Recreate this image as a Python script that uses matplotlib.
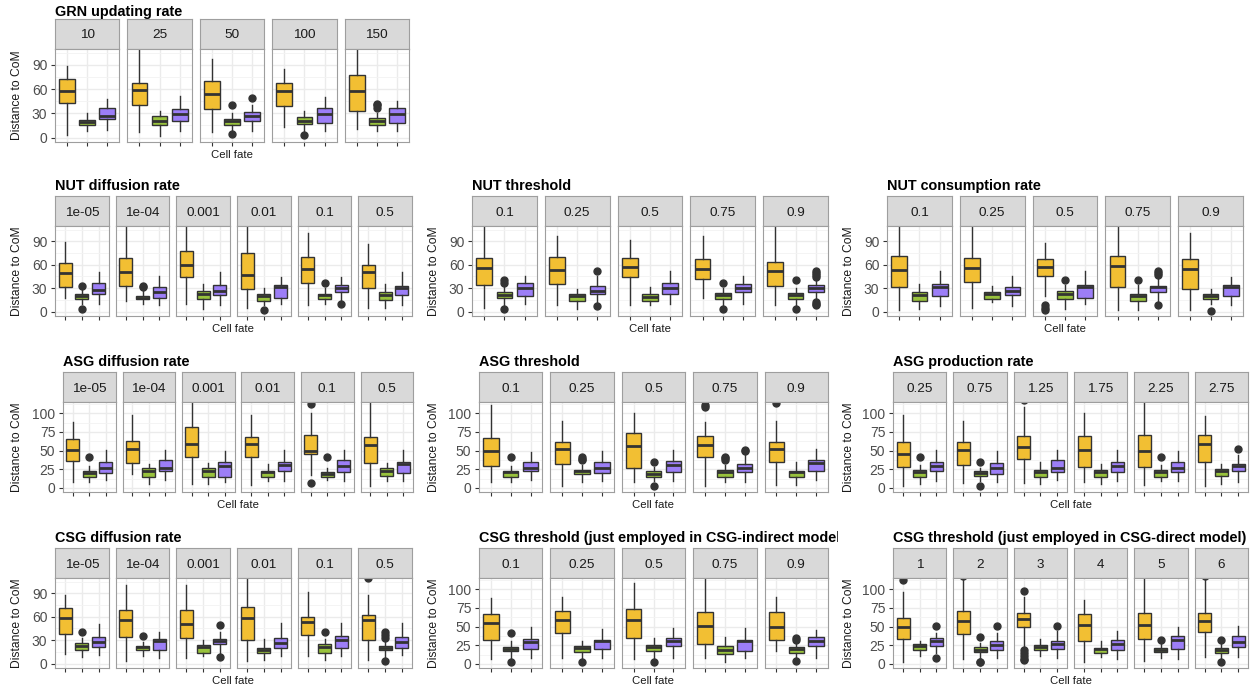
import matplotlib
matplotlib.use('Agg')
import matplotlib.pyplot as plt
from matplotlib.transforms import Bbox, TransformedBbox

plt.rcParams['font.family'] = ['Liberation Sans', 'DejaVu Sans']

# ---- data: per panel boxes [low whisker, q1, median, q3, high whisker] ----
# order of boxes in each panel: yellow, green, purple ; outliers per box
GRN_LABELS = ['10', '25', '50', '100', '150']
GRN_YEL = [[3, 43, 58, 73, 88], [7, 40, 59, 68, 108], [7, 35, 54, 70, 97], [13, 39, 57, 68, 85], [11, 33, 57, 77, 110]]
GRN_GRE = [[8, 15, 19, 22, 30], [2, 15, 20, 27, 33], [6, 16, 20, 23, 30], [8, 17, 21, 25, 33], [8, 15, 20, 24, 30]]
GRN_PUR = [[9, 23, 27, 36, 48], [8, 20, 29, 35, 51], [8, 21, 27, 32, 40], [8, 18, 29, 36, 50], [8, 18, 29, 36, 45]]
GRN_OUT = [[[], [], []], [[], [], []], [[], [40, 4], [49]], [[], [3], []], [[], [37, 40, 42], []]]

DIFF_LABELS = ['1e-05', '1e-04', '0.001', '0.01', '0.1', '0.5']
THR_LABELS = ['0.1', '0.25', '0.5', '0.75', '0.9']

NUTD_YEL = [[17, 32, 50, 62, 89], [14, 33, 51, 69, 110], [10, 44, 60, 78, 110], [5, 29, 47, 75, 110], [8, 37, 55, 70, 100], [5, 30, 51, 60, 86]]
NUTD_GRE = [[10, 16, 20, 23, 30], [10, 16, 18, 20, 27], [4, 16, 22, 26, 36], [8, 14, 20, 23, 30], [10, 16, 21, 23, 30], [5, 15, 21, 25, 36]]
NUTD_PUR = [[10, 22, 28, 37, 51], [8, 18, 25, 32, 46], [8, 21, 27, 34, 51], [10, 18, 32, 34, 44], [15, 25, 30, 34, 44], [8, 21, 30, 33, 51]]
NUTD_OUT = [[[], [33, 4], []], [[], [31, 33], []], [[], [], []], [[], [2], []], [[], [37], [10]], [[], [], []]]

NUTT_YEL = [[5, 34, 56, 68, 110], [8, 35, 53, 70, 97], [8, 44, 57, 68, 91], [18, 42, 54, 67, 97], [8, 33, 52, 64, 110]]
NUTT_GRE = [[8, 17, 21, 25, 33], [4, 14, 20, 23, 29], [9, 14, 19, 22, 32], [9, 16, 21, 24, 30], [8, 16, 21, 24, 30]]
NUTT_PUR = [[10, 20, 30, 37, 46], [13, 22, 27, 33, 46], [10, 23, 30, 37, 52], [10, 25, 30, 36, 46], [15, 25, 30, 34, 40]]
NUTT_OUT = [[[], [37, 41, 3], []], [[], [], [52, 7]], [[], [], []], [[], [37, 4], []],
            [[], [41, 3], [44, 47, 50, 52, 12, 10, 8]]]

NUTC_YEL = [[2, 32, 53, 71, 110], [5, 38, 56, 69, 110], [20, 45, 57, 67, 88], [2, 31, 58, 71, 110], [2, 29, 54, 67, 100]]
NUTC_GRE = [[3, 14, 21, 25, 36], [12, 16, 22, 25, 33], [4, 16, 22, 26, 34], [2, 14, 20, 23, 34], [10, 16, 20, 23, 29]]
NUTC_PUR = [[7, 20, 31, 35, 52], [7, 21, 26, 32, 45], [10, 18, 31, 34, 52], [12, 25, 31, 33, 44], [8, 20, 31, 34, 44]]
NUTC_OUT = [[[], [], []], [[], [], []], [[8, 5, 2], [41], []], [[], [41], [47, 50, 52, 8]], [[], [1], []]]

ASGD_YEL = [[8, 36, 51, 65, 88], [18, 33, 52, 63, 97], [5, 42, 59, 81, 117], [4, 41, 59, 68, 97], [17, 46, 49, 71, 100], [2, 33, 57, 68, 117]]
ASGD_GRE = [[8, 15, 20, 23, 29], [5, 15, 22, 27, 32], [5, 15, 23, 26, 33], [9, 15, 21, 23, 32], [11, 15, 18, 21, 26], [9, 16, 23, 26, 33]]
ASGD_PUR = [[10, 20, 27, 34, 51], [11, 23, 27, 37, 51], [8, 15, 29, 35, 49], [9, 23, 30, 35, 51], [9, 21, 29, 37, 51], [9, 20, 32, 34, 51]]
ASGD_OUT = [[[], [41], []], [[], [], []], [[], [], []], [[], [], []], [[112, 6], [41], []], [[], [], []]]

ASGT_YEL = [[8, 29, 49, 67, 111], [2, 32, 52, 61, 89], [8, 27, 56, 73, 100], [2, 41, 58, 69, 88], [4, 35, 52, 62, 89]]
ASGT_GRE = [[8, 15, 21, 23, 29], [8, 18, 22, 24, 31], [9, 15, 18, 22, 28], [8, 15, 21, 24, 30], [4, 14, 21, 23, 34]]
ASGT_PUR = [[10, 22, 27, 35, 48], [9, 20, 27, 35, 49], [9, 21, 31, 36, 51], [8, 21, 27, 32, 44], [11, 23, 33, 37, 52]]
ASGT_OUT = [[[], [42], []], [[], [37, 39, 41], []], [[], [34, 2], []], [[108, 111], [38, 40, 41], [49, 51]], [[113], [], []]]

ASGP_LABELS = ['0.25', '0.75', '1.25', '1.75', '2.25', '2.75']
ASGP_YEL = [[2, 28, 45, 62, 97], [7, 30, 51, 61, 89], [7, 39, 55, 70, 108], [8, 28, 51, 70, 100], [4, 28, 49, 71, 117], [2, 35, 59, 71, 96]]
ASGP_GRE = [[5, 15, 21, 24, 31], [9, 16, 20, 22, 27], [5, 14, 21, 24, 34], [5, 15, 21, 24, 32], [9, 15, 21, 24, 31], [5, 16, 22, 25, 32]]
ASGP_PUR = [[9, 22, 29, 35, 51], [8, 18, 27, 33, 49], [10, 21, 27, 37, 51], [9, 21, 29, 35, 51], [9, 21, 27, 35, 49], [8, 22, 29, 32, 44]]
ASGP_OUT = [[[], [42], []], [[], [34, 3], []], [[118], [], []], [[], [], []], [[], [42], []], [[], [], [52]]]

CSGD_YEL = [[12, 38, 58, 71, 88], [3, 34, 56, 68, 100], [7, 33, 51, 68, 100], [3, 30, 58, 73, 110], [10, 37, 53, 60, 91], [5, 30, 56, 62, 88]]
CSGD_GRE = [[8, 17, 22, 27, 33], [10, 17, 21, 23, 28], [10, 14, 21, 24, 30], [5, 14, 18, 20, 32], [5, 14, 21, 25, 31], [8, 17, 20, 23, 30]]
CSGD_PUR = [[11, 21, 28, 34, 51], [7, 17, 29, 31, 40], [13, 25, 29, 32, 40], [10, 20, 27, 33, 52], [10, 20, 30, 36, 52], [11, 20, 28, 34, 52]]
CSGD_OUT = [[[], [41], []], [[], [36], []], [[], [], [49, 9]], [[], [], []], [[], [41], []], [[109], [41, 37, 33, 3], []]]

CSGI_YEL = [[7, 32, 55, 67, 88], [8, 41, 59, 71, 90], [6, 34, 59, 73, 108], [8, 27, 51, 69, 114], [17, 32, 50, 69, 90]]
CSGI_GRE = [[8, 17, 20, 23, 31], [8, 16, 21, 24, 31], [8, 17, 22, 25, 35], [3, 13, 19, 24, 36], [9, 14, 20, 22, 30]]
CSGI_PUR = [[8, 20, 29, 33, 50], [8, 20, 30, 32, 47], [8, 24, 31, 35, 48], [8, 17, 30, 32, 48], [8, 24, 31, 36, 45]]
CSGI_OUT = [[[], [41, 3], []], [[], [2], []], [[], [3], []], [[], [], []], [[], [35, 32, 4], []]]

CSGR_LABELS = ['1', '2', '3', '4', '5', '6']
CSGR_YEL = [[3, 33, 49, 61, 96], [7, 40, 58, 71, 114], [24, 50, 60, 68, 90], [3, 30, 52, 67, 86], [4, 33, 52, 68, 114], [9, 43, 58, 68, 114]]
CSGR_GRE = [[11, 18, 24, 27, 31], [6, 16, 19, 22, 28], [11, 19, 23, 25, 33], [9, 15, 20, 21, 30], [8, 16, 19, 21, 28], [8, 15, 19, 21, 28]]
CSGR_PUR = [[14, 24, 30, 35, 42], [8, 18, 25, 30, 42], [8, 20, 27, 31, 44], [7, 18, 27, 32, 44], [7, 20, 32, 37, 49], [9, 22, 29, 37, 51]]
CSGR_OUT = [[[112], [], [51, 8]], [[118], [36, 2, 3], [51]], [[97, 18, 15, 11, 7, 5], [], [51]], [[], [], []],
            [[], [32], []], [[118], [32, 3], []]]

FILLS = ['#F2BF33', '#98C23C', '#9C7EF7']
W, H = 1258, 689

fig = plt.figure(figsize=(W / 100, H / 100), dpi=100)


def px_axes(x0, top, w, h):
    return fig.add_axes([x0 / W, 1 - (top + h) / H, w / W, h / H])


def draw_group(title, labels, yel, gre, pur, outs, x0, x1, strip_top, panel_bot, ylab_x,
               ticks, ylim, title_off=10, clip_right=None):
    n = len(labels)
    gap = 8 if n == 5 else 7
    pw = (x1 - x0 - gap * (n - 1)) / n
    sh = 30
    ph = panel_bot - strip_top - sh
    for i in range(n):
        px = x0 + i * (pw + gap)
        # strip
        sa = px_axes(px, strip_top, pw, sh)
        sa.set_facecolor('#D9D9D9')
        sa.set_xticks([]); sa.set_yticks([])
        for s in sa.spines.values():
            s.set_color('#9E9E9E'); s.set_linewidth(0.8)
        sa.text(0.5, 0.45, labels[i], ha='center', va='center', fontsize=9.7,
                color='#1A1A1A', transform=sa.transAxes)
        # panel
        ax = px_axes(px, strip_top + sh, pw, ph)
        stats = []
        for st, fl in zip([yel[i], gre[i], pur[i]], outs[i]):
            stats.append(dict(whislo=st[0], q1=st[1], med=st[2], q3=st[3], whishi=st[4], fliers=fl))
        bp = ax.bxp(stats, positions=[1, 2, 3], widths=0.78, patch_artist=True, showcaps=False,
                    boxprops=dict(edgecolor='#333333', linewidth=1.0),
                    whiskerprops=dict(color='#333333', linewidth=1.0),
                    medianprops=dict(color='#333333', linewidth=2.0),
                    flierprops=dict(marker='o', markerfacecolor='#333333', markeredgecolor='#333333',
                                    markersize=5))
        for b, c in zip(bp['boxes'], FILLS):
            b.set_facecolor(c)
        ax.set_xlim(0.4, 3.6)
        ax.set_ylim(*ylim)
        ax.set_axisbelow(True)
        ax.set_xticks([1, 2, 3])
        ax.set_xticklabels([])
        ax.set_yticks(ticks)
        step = ticks[1] - ticks[0]
        ax.set_yticks([t + step / 2 for t in ticks], minor=True)
        ax.grid(True, which='major', color='#EBEBEB', linewidth=1.0)
        ax.grid(True, which='minor', axis='y', color='#F3F3F3', linewidth=0.6)
        ax.tick_params(axis='both', which='major', length=3, width=0.8, color='#333333',
                       labelsize=10, labelcolor='#4D4D4D', pad=2.5)
        ax.tick_params(axis='both', which='minor', length=0)
        if i > 0:
            ax.tick_params(axis='y', which='major', length=0, labelleft=False)
        for s in ax.spines.values():
            s.set_color('#9E9E9E'); s.set_linewidth(0.8)
    # texts
    fig.text(ylab_x / W, 1 - (strip_top + sh + ph / 2) / H, 'Distance to CoM', rotation=90,
             ha='center', va='center', fontsize=8.7, color='#1A1A1A')
    fig.text((x0 + x1) / 2 / W, 1 - (panel_bot + 13) / H, 'Cell fate', ha='center', va='center',
             fontsize=8.2, color='#1A1A1A')
    t = fig.text(x0 / W, 1 - (strip_top - title_off) / H, title, ha='left', va='center',
                 fontsize=10.4, fontweight='bold', color='black')
    if clip_right is not None:
        t.set_clip_box(TransformedBbox(Bbox([[0, 0], [clip_right / W, 1]]), fig.transFigure))
        t.set_clip_on(True)


T90 = [0, 30, 60, 90]
T100 = [0, 25, 50, 75, 100]
L90 = (-5.5, 109.5)
L100 = (-5.5, 115)

draw_group('GRN updating rate', GRN_LABELS, GRN_YEL, GRN_GRE, GRN_PUR, GRN_OUT,
           55, 409, 19, 142, 17, T90, L90, title_off=7)

draw_group('NUT diffusion rate', DIFF_LABELS, NUTD_YEL, NUTD_GRE, NUTD_PUR, NUTD_OUT,
           55, 412, 196, 316, 17, T90, L90)
draw_group('NUT threshold', THR_LABELS, NUTT_YEL, NUTT_GRE, NUTT_PUR, NUTT_OUT,
           472, 828, 196, 316, 434, T90, L90)
draw_group('NUT consumption rate', THR_LABELS, NUTC_YEL, NUTC_GRE, NUTC_PUR, NUTC_OUT,
           887, 1243, 196, 316, 849, T90, L90)

draw_group('ASG diffusion rate', DIFF_LABELS, ASGD_YEL, ASGD_GRE, ASGD_PUR, ASGD_OUT,
           63, 413, 372, 492, 17, T100, L100)
draw_group('ASG threshold', THR_LABELS, ASGT_YEL, ASGT_GRE, ASGT_PUR, ASGT_OUT,
           479, 828, 372, 492, 434, T100, L100)
draw_group('ASG production rate', ASGP_LABELS, ASGP_YEL, ASGP_GRE, ASGP_PUR, ASGP_OUT,
           893, 1248, 372, 492, 849, T100, L100)

draw_group('CSG diffusion rate', DIFF_LABELS, CSGD_YEL, CSGD_GRE, CSGD_PUR, CSGD_OUT,
           55, 412, 548, 668, 17, T90, L90)
draw_group('CSG threshold (just employed in CSG-indirect model)', THR_LABELS, CSGI_YEL, CSGI_GRE,
           CSGI_PUR, CSGI_OUT, 479, 828, 548, 668, 434, T100, L100, clip_right=838)
draw_group('CSG threshold (just employed in CSG-direct model)', CSGR_LABELS, CSGR_YEL, CSGR_GRE,
           CSGR_PUR, CSGR_OUT, 893, 1248, 548, 668, 849, T100, L100)

fig.savefig('out.png', dpi=100, facecolor='white')
